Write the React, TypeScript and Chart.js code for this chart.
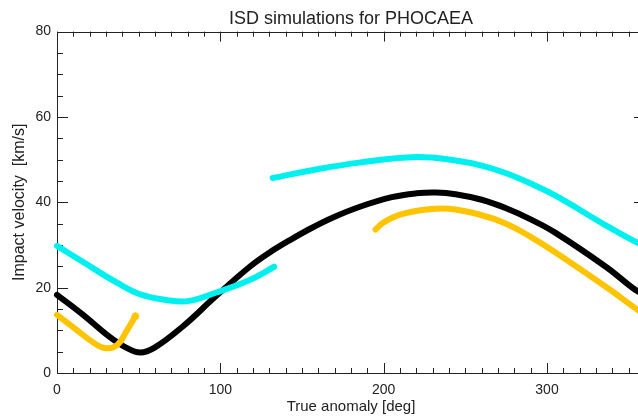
import { useEffect, useRef } from 'react';
import { Chart, registerables } from 'chart.js';

Chart.register(...registerables);

// Data
const blackX = [0, 16, 32, 42, 51, 60, 77, 97, 118, 130, 142, 155, 170, 185, 205, 220, 232, 244, 260, 275, 290, 305, 336, 354, 360];
const blackY = [18.3, 13.6, 8.5, 6.0, 4.8, 6.0, 10.9, 17.9, 24.9, 28.2, 31.0, 33.8, 36.6, 38.9, 41.2, 42.1, 42.3, 41.9, 40.6, 38.6, 36.0, 32.9, 24.9, 19.5, 18.3];

const cyanX1 = [0, 16, 37, 52, 69, 81, 97, 118, 133];
const cyanY1 = [29.8, 26.0, 21.1, 18.3, 17.0, 16.9, 18.8, 21.8, 24.9];
const cyanX2 = [132, 160, 185, 220, 244, 260, 275, 290, 305, 336, 354, 360];
const cyanY2 = [45.7, 47.8, 49.3, 50.6, 49.8, 48.6, 46.8, 44.4, 41.6, 34.6, 30.8, 29.8];

const goldX1 = [0, 12, 22, 30, 37, 43, 48];
const goldY1 = [13.6, 10.1, 7.2, 5.8, 6.6, 10.1, 13.3];
const goldX2 = [195, 200, 210, 226, 240, 258, 275, 290, 305, 336, 354, 360];
const goldY2 = [33.6, 35.3, 37.1, 38.3, 38.5, 37.2, 35.0, 31.9, 28.3, 20.2, 15.2, 13.6];

const xTickLabels = [0, 100, 200, 300];
const yTickLabels = [0, 20, 40, 60, 80];

const BLACK = '#000000';
const CYAN = '#00F0F0';
const GOLD = '#FFC400';
const TEXT = '#222222';
const FONT = "'Liberation Sans', Arial, sans-serif";

const zip = (xs: number[], ys: number[]) => xs.map((x, i) => ({ x, y: ys[i] }));

const boxTicks = {
  id: 'boxTicks',
  beforeDatasetsDraw(chart: any) {
    const { ctx, chartArea: a, scales } = chart;
    const x = scales.x;
    const y = scales.y;
    ctx.save();
    ctx.strokeStyle = TEXT;
    ctx.lineWidth = 1;
    ctx.strokeRect(Math.round(a.left) + 0.5, Math.round(a.top) + 0.5, Math.round(a.right - a.left), Math.round(a.bottom - a.top));
    ctx.beginPath();
    for (let v = 0; v <= 360; v += 10) {
      const px = Math.round(x.getPixelForValue(v)) + 0.5;
      const len = xTickLabels.includes(v) ? 10 : 5;
      ctx.moveTo(px, a.bottom);
      ctx.lineTo(px, a.bottom - len);
      ctx.moveTo(px, a.top);
      ctx.lineTo(px, a.top + len);
    }
    for (let v = 0; v <= 80; v += 5) {
      const py = Math.round(y.getPixelForValue(v)) + 0.5;
      const len = yTickLabels.includes(v) ? 11 : 6;
      ctx.moveTo(a.left, py);
      ctx.lineTo(a.left + len, py);
      ctx.moveTo(a.right, py);
      ctx.lineTo(a.right - len, py);
    }
    ctx.stroke();
    ctx.restore();
  },
};

function seg(data: { x: number; y: number }[], color: string, star = false) {
  return {
    data,
    borderColor: color,
    backgroundColor: color,
    borderWidth: 6,
    fill: false,
    tension: 0.4,
    borderCapStyle: 'round' as const,
    borderJoinStyle: 'round' as const,
    clip: 4,
    pointStyle: 'star' as const,
    pointBorderColor: color,
    pointBorderWidth: 2,
    pointRadius: (c: any) => (star && c.dataIndex === data.length - 1 ? 4 : 0),
    pointHoverRadius: 0,
  };
}

export default function App() {
  const ref = useRef<HTMLCanvasElement | null>(null);
  useEffect(() => {
    if (!ref.current) return;
    const chart = new Chart(ref.current, {
      type: 'line',
      data: {
        datasets: [
          seg(zip(cyanX1, cyanY1), CYAN),
          seg(zip(cyanX2, cyanY2), CYAN),
          seg(zip(goldX1, goldY1), GOLD, true),
          seg(zip(goldX2, goldY2), GOLD),
          seg(zip(blackX, blackY), BLACK),
        ] as any,
      },
      options: {
        responsive: false,
        animation: false,
        layout: { padding: { left: 0, right: 55, top: 0, bottom: 0 } },
        plugins: {
          legend: { display: false },
          tooltip: { enabled: false },
          title: {
            display: true,
            text: 'ISD simulations for PHOCAEA',
            fullSize: false,
            color: TEXT,
            font: { family: FONT, size: 18, weight: 'normal' },
            padding: { top: 8, bottom: 2 },
          },
        },
        scales: {
          x: {
            type: 'linear',
            min: 0,
            max: 360,
            grid: { display: false, drawTicks: false },
            border: { display: false },
            ticks: {
              stepSize: 100,
              autoSkip: false,
              maxRotation: 0,
              padding: 9,
              color: TEXT,
              font: { family: FONT, size: 14 },
              callback: (v: any) => (xTickLabels.includes(Number(v)) ? String(v) : ''),
            },
            title: {
              display: true,
              text: 'True anomaly [deg]',
              color: TEXT,
              font: { family: FONT, size: 15 },
              padding: { top: 0, bottom: 4 },
            },
            afterFit: (s: any) => {
              s.height = 47;
            },
          },
          y: {
            type: 'linear',
            min: 0,
            max: 80,
            grid: { display: false, drawTicks: false },
            border: { display: false },
            ticks: {
              stepSize: 20,
              padding: 6,
              color: TEXT,
              font: { family: FONT, size: 14 },
              callback: (v: any) => (yTickLabels.includes(Number(v)) ? String(v) : ''),
            },
            title: {
              display: true,
              text: 'Impact velocity  [km/s]',
              color: TEXT,
              font: { family: FONT, size: 16 },
              padding: { top: 10, bottom: 0 },
            },
            afterFit: (s: any) => {
              s.width = 57;
            },
          },
        },
      },
      plugins: [boxTicks],
    });
    return () => chart.destroy();
  }, []);

  return (
    <div style={{ position: 'fixed', left: 0, top: 0, width: 638, height: 420, overflow: 'hidden', background: '#fff' }}>
      <canvas ref={ref} width={700} height={420} style={{ display: 'block', width: 700, height: 420 }} />
    </div>
  );
}
